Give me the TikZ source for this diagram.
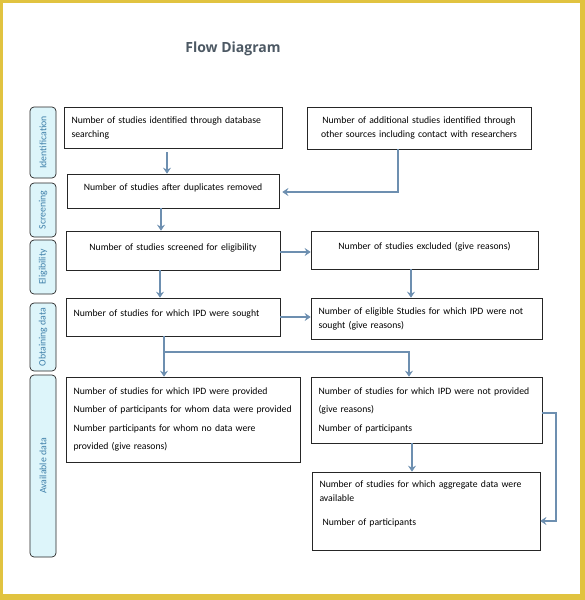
\documentclass[tikz,border=0pt]{standalone}
\usepackage{fontspec}
\setmainfont{Carlito}
\newfontfamily\titlefont{Open Sans}
\usepackage{tikz}
\usetikzlibrary{arrows.meta,positioning,calc}

\definecolor{framegold}{HTML}{E1C340}
\definecolor{arrowblue}{HTML}{6D8FB0}
\definecolor{phasefill}{HTML}{DDF5FA}
\definecolor{phasetext}{HTML}{3F80AA}
\definecolor{titlegray}{HTML}{4D5964}

\tikzset{
  box/.style={draw=black!85, line width=0.7pt, fill=white, inner xsep=7.5pt, inner ysep=0pt,
    font=\fontsize{9.7}{14}\selectfont},
  leftbox/.style={box, align=left},
  midbox/.style={box, align=center},
  lift/.style={text depth=7.5pt},
  phase/.style={draw=black!85, line width=0.7pt, rounded corners=4pt, fill=phasefill,
    text=phasetext, rotate=90, inner sep=0pt, minimum height=26,
    font=\fontsize{9.8}{11}\selectfont},
  flow/.style={draw=arrowblue, line width=1.8pt, -{Stealth[length=6pt,width=8pt,inset=2pt]}}
}

\begin{document}
\begin{tikzpicture}[x=1pt,y=-1pt]
% Frame and page
\fill[framegold] (0,0) rectangle (585,600);
\fill[white] (3,3) rectangle (580,594);
\useasboundingbox (0,0) rectangle (585,600);

% Title
\node[font=\titlefont\bfseries\fontsize{14}{16}\selectfont, text=titlegray] (title) at (233,49) {Flow Diagram};

% Phase labels on the left
\foreach \name/\y/\h/\txt in {identlab/142.5/71/Identification, screenlab/210/54/Screening,
    eliglab/267/54/Eligibility, obtainlab/337/68/Obtaining data, availlab/466/182/Available data}{
  \node[phase, minimum width=\h] (\name) at (43,\y) {\txt};
}

% Boxes
\node[leftbox, text width=203, minimum height=41] (db) at (173,127.5)
  {Number of studies identified through database\\searching};
\node[midbox, text width=209, minimum height=42] (other) at (419,128)
  {Number of additional studies identified through\\other sources including contact with researchers};
\node[midbox, lift, text width=197, minimum height=34] (dup) at (173,191)
  {Number of studies after duplicates removed};
\node[midbox, lift, text width=199, minimum height=39] (screened) at (173,250.5)
  {Number of studies screened for eligibility};
\node[midbox, lift, text width=212, minimum height=38] (excluded) at (424.5,250)
  {Number of studies excluded (give reasons)};
\node[leftbox, lift, text width=199, minimum height=38] (sought) at (173,317)
  {Number of studies for which IPD were sought};
\node[leftbox, text width=216, minimum height=41] (notsought) at (426.5,318.5)
  {Number of eligible Studies for which IPD were not\\sought (give reasons)};
\node[leftbox, text width=219, minimum height=85] (provided) at (183,419.5)
  {Number of studies for which IPD were provided\\[4.5pt]
   Number of participants for whom data were provided\\[4.5pt]
   Number participants for whom no data were\\[4.5pt]
   provided (give reasons)};
\node[leftbox, text width=216, minimum height=66] (notprov) at (426.5,410)
  {Number of studies for which IPD were not provided\\[4.5pt]
   (give reasons)\\[4.5pt]
   Number of participants};
\node[leftbox, text width=213, minimum height=78] (aggr) at (426,511)
  {Number of studies for which aggregate data were\\available\\[10pt]
   \hspace{3pt}Number of participants\\[2pt]\mbox{}};

% Connectors
\draw[flow, shorten <=4pt] ([xshift=-6pt]db.south) -- ([xshift=-6pt]dup.north);
\draw[flow, shorten >=3pt] ([xshift=-21pt]other.south) |- ([yshift=-1pt]dup.east);
\draw[flow] ([xshift=-12pt]dup.south) -- ([xshift=-12pt]screened.north);
\draw[flow] ([yshift=-1.5pt]screened.east) -- ([yshift=-1.5pt]screened.east -| excluded.west);
\draw[flow] ([xshift=-13.5pt]excluded.south) -- ([xshift=-13.5pt]excluded.south |- notsought.north);
\draw[flow] ([xshift=-13pt]screened.south) -- ([xshift=-13pt]sought.north);
\draw[flow] (sought.east) -- (sought.east -| notsought.west);
\coordinate (fork) at (164,352);
\draw[flow] ([xshift=-9pt]sought.south) -- ([xshift=-9pt]sought.south |- provided.north);
\draw[flow] (fork) -| ([xshift=-17.5pt]notprov.north);
\draw[flow] ([xshift=-14.5pt]notprov.south) -- ([xshift=-14.5pt]notprov.south |- aggr.north);
\draw[flow] ([yshift=-3pt]notprov.east) -- ++(14,0) |- ([yshift=-10pt]aggr.east);

\end{tikzpicture}
\end{document}
